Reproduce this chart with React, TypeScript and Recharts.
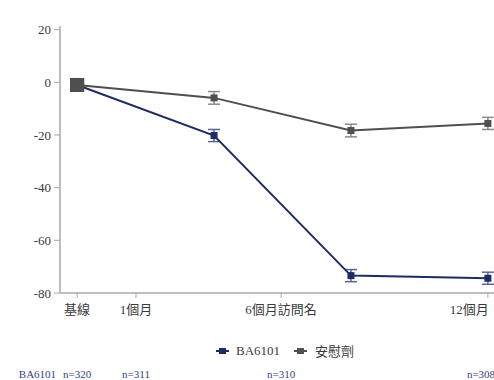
import React from "react";
import { LineChart, Line, XAxis, YAxis, ErrorBar, Legend } from "recharts";

// ---- data ----
const visitPositions = [0, 1, 2, 3];
const ba6101Values = [-1, -20.2, -73.4, -74.4];
const ba6101Errors = [0, 2.3, 2.3, 2.3];
const placeboValues = [-1, -5.9, -18.3, -15.6];
const placeboErrors = [0, 2.4, 2.4, 2.3];

const xTickValues = [0, 0.43, 1.49, 3];
const xTickLabels = ["基線", "1個月", "6個月訪問名", "12個月"];
const nLabels = ["n=320", "n=311", "n=310", "n=308"];
const nRowTitle = "BA6101";

const yTicks = [-80, -60, -40, -20, 0, 20];

const seriesNames = { ba: "BA6101", pl: "安慰劑" };

const data = visitPositions.map((x, i) => ({
  x,
  ba: ba6101Values[i],
  baErr: ba6101Errors[i],
  pl: placeboValues[i],
  plErr: placeboErrors[i],
}));

// ---- styles ----
const FONT =
  '"Liberation Serif", "Times New Roman", Times, "DejaVu Serif", serif, "Noto Sans CJK TC"';
const BLUE = "#1e2c63";
const BLUE_ERR = "#56669a";
const GRAY = "#4f4f4f";
const GRAY_ERR = "#8a8a8a";
const AXIS = "#a8a8a8";
const TEXT = "#3a3a3a";
const N_COLOR = "#2f4384";

const makeDot = (color: string) => (props: any) => {
  const { cx, cy, index } = props;
  if (cx == null || cy == null) return <g key={`d${index}`} />;
  const s = index === 0 ? 14 : 7;
  return (
    <rect
      key={`d${index}`}
      x={cx - s / 2}
      y={cy - s / 2}
      width={s}
      height={s}
      fill={color}
    />
  );
};

const XTick = (props: any) => {
  const { x, y, payload, index } = props;
  const i = xTickValues.indexOf(payload.value);
  const idx = i >= 0 ? i : index;
  const last = idx === xTickValues.length - 1;
  return (
    <g style={{ fontFamily: FONT }}>
      <text
        x={last ? x + 1 : x}
        y={y + 14}
        textAnchor={last ? "end" : "middle"}
        fill={TEXT}
        fontSize={13}
        style={{ fontFamily: FONT }}
      >
        {xTickLabels[idx]}
      </text>
      <text
        x={last ? x - 21 : x}
        y={y + 78}
        textAnchor={last ? "start" : "middle"}
        fill={N_COLOR}
        fontSize={11}
        style={{ fontFamily: FONT }}
      >
        {nLabels[idx]}
      </text>
      {idx === 0 && (
        <text
          x={x - 21}
          y={y + 78}
          textAnchor="end"
          fill={N_COLOR}
          fontSize={11}
          style={{ fontFamily: FONT }}
        >
          {nRowTitle}
        </text>
      )}
    </g>
  );
};

const YTick = (props: any) => {
  const { x, y, payload } = props;
  return (
    <text
      x={x}
      y={y}
      dy="0.35em"
      textAnchor="end"
      fill={TEXT}
      fontSize={13}
      style={{ fontFamily: FONT }}
    >
      {payload.value}
    </text>
  );
};

const LegendIcon = ({ color }: { color: string }) => (
  <svg width={13} height={8} style={{ display: "block" }}>
    <line x1={0} y1={4} x2={13} y2={4} stroke={color} strokeWidth={2} />
    <rect x={3} y={1} width={7} height={6} fill={color} />
  </svg>
);

const LegendContent = () => (
  <div
    style={{
      display: "flex",
      alignItems: "center",
      fontFamily: FONT,
      fontSize: 13,
      color: TEXT,
      whiteSpace: "nowrap",
    }}
  >
    <LegendIcon color={BLUE} />
    <span style={{ marginLeft: 7 }}>{seriesNames.ba}</span>
    <span style={{ marginLeft: 14 }}>
      <LegendIcon color={GRAY} />
    </span>
    <span style={{ marginLeft: 8 }}>{seriesNames.pl}</span>
  </div>
);

export default function App() {
  return (
    <div
      style={{
        position: "fixed",
        left: 0,
        top: 0,
        width: 494,
        height: 380,
        overflow: "hidden",
        background: "#fff",
        fontFamily: FONT,
      }}
    >
      <LineChart
        width={510}
        height={380}
        data={data}
        margin={{ top: 26, right: 5, bottom: 57, left: 0 }}
      >
        <XAxis
          dataKey="x"
          type="number"
          domain={[-0.125, 3.125]}
          ticks={xTickValues}
          interval={0}
          tick={<XTick />}
          tickSize={5}
          tickMargin={2}
          height={30}
          axisLine={{ stroke: AXIS, strokeWidth: 1.5 }}
          tickLine={{ stroke: AXIS }}
        />
        <XAxis
          xAxisId="top"
          orientation="top"
          dataKey="x"
          type="number"
          domain={[-0.125, 3.125]}
          tick={false}
          tickLine={false}
          height={0}
          axisLine={{ stroke: AXIS, strokeWidth: 1.5 }}
        />
        <YAxis
          type="number"
          domain={[-80, 21.4]}
          ticks={yTicks}
          interval={0}
          width={60}
          tickSize={6}
          tickMargin={3}
          allowDataOverflow
          axisLine={{ stroke: AXIS, strokeWidth: 1.5 }}
          tickLine={{ stroke: AXIS }}
          tick={<YTick />}
        />
        <Legend
          verticalAlign="middle"
          align="center"
          layout="horizontal"
          content={<LegendContent />}
          wrapperStyle={{ left: 216, top: 341, width: 200, height: 18 }}
        />
        <Line
          dataKey="ba"
          name={seriesNames.ba}
          stroke={BLUE}
          strokeWidth={2}
          dot={makeDot(BLUE)}
          activeDot={false}
          isAnimationActive={false}
        >
          <ErrorBar
            dataKey="baErr"
            direction="y"
            width={6}
            stroke={BLUE_ERR}
            strokeWidth={1.5}
            isAnimationActive={false}
          />
        </Line>
        <Line
          dataKey="pl"
          name={seriesNames.pl}
          stroke={GRAY}
          strokeWidth={2}
          dot={makeDot(GRAY)}
          activeDot={false}
          isAnimationActive={false}
        >
          <ErrorBar
            dataKey="plErr"
            direction="y"
            width={6}
            stroke={GRAY_ERR}
            strokeWidth={1.5}
            isAnimationActive={false}
          />
        </Line>
      </LineChart>
    </div>
  );
}
